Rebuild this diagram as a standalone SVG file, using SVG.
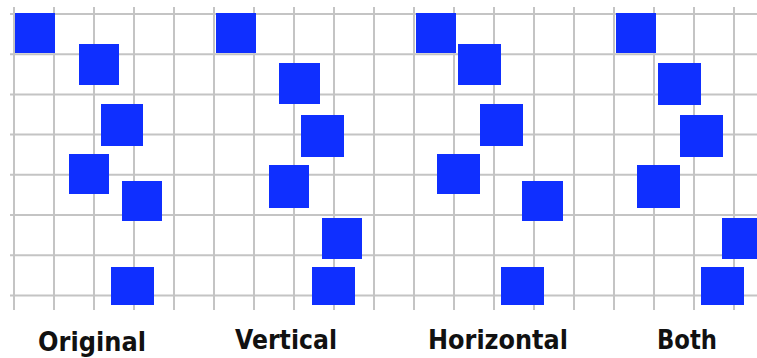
<svg xmlns="http://www.w3.org/2000/svg" width="757" height="358" viewBox="0 0 757 358">
<style>
.g line{stroke:#c4c4c4;stroke-width:2}
.sq{fill:#0f2fff}
.lbl{font-family:"DejaVu Sans","Liberation Sans",sans-serif;font-weight:bold;font-size:27px;fill:#111;text-anchor:middle}
</style>
<rect width="757" height="358" fill="#fff"/>
<g id="grid" class="g">
<line x1="10" y1="14" x2="757" y2="14"/>
<line x1="10" y1="54.2" x2="757" y2="54.2"/>
<line x1="10" y1="94.4" x2="757" y2="94.4"/>
<line x1="10" y1="134.6" x2="757" y2="134.6"/>
<line x1="10" y1="174.8" x2="757" y2="174.8"/>
<line x1="10" y1="215" x2="757" y2="215"/>
<line x1="10" y1="255.2" x2="757" y2="255.2"/>
<line x1="10" y1="295.4" x2="757" y2="295.4"/>
<line x1="14" y1="7" x2="14" y2="310"/>
<line x1="54" y1="7" x2="54" y2="310"/>
<line x1="94" y1="7" x2="94" y2="310"/>
<line x1="134" y1="7" x2="134" y2="310"/>
<line x1="174" y1="7" x2="174" y2="310"/>
<line x1="214" y1="7" x2="214" y2="310"/>
<line x1="254" y1="7" x2="254" y2="310"/>
<line x1="294" y1="7" x2="294" y2="310"/>
<line x1="334" y1="7" x2="334" y2="310"/>
<line x1="374" y1="7" x2="374" y2="310"/>
<line x1="414" y1="7" x2="414" y2="310"/>
<line x1="454" y1="7" x2="454" y2="310"/>
<line x1="494" y1="7" x2="494" y2="310"/>
<line x1="534" y1="7" x2="534" y2="310"/>
<line x1="574" y1="7" x2="574" y2="310"/>
<line x1="614" y1="7" x2="614" y2="310"/>
<line x1="654" y1="7" x2="654" y2="310"/>
<line x1="694" y1="7" x2="694" y2="310"/>
<line x1="734" y1="7" x2="734" y2="310"/>
</g>
<g id="original">
<rect class="sq" x="15" y="13" width="40" height="40"/>
<rect class="sq" x="79" y="44" width="40" height="41"/>
<rect class="sq" x="101" y="104" width="42" height="42"/>
<rect class="sq" x="69" y="154" width="40" height="40"/>
<rect class="sq" x="122" y="181" width="40" height="40"/>
<rect class="sq" x="111" y="267" width="43" height="38"/>
<text class="lbl" x="92" y="351" textLength="108" lengthAdjust="spacingAndGlyphs">Original</text>
</g>
<g id="vertical">
<rect class="sq" x="216" y="13" width="40" height="40"/>
<rect class="sq" x="279" y="63" width="41" height="41"/>
<rect class="sq" x="301" y="115" width="43" height="42"/>
<rect class="sq" x="269" y="165" width="40" height="43"/>
<rect class="sq" x="322" y="218" width="40" height="41"/>
<rect class="sq" x="312" y="267" width="43" height="38"/>
<text class="lbl" x="286" y="349" textLength="102" lengthAdjust="spacingAndGlyphs">Vertical</text>
</g>
<g id="horizontal">
<rect class="sq" x="416" y="13" width="40" height="40"/>
<rect class="sq" x="458" y="44" width="43" height="41"/>
<rect class="sq" x="480" y="104" width="43" height="42"/>
<rect class="sq" x="437" y="154" width="43" height="40"/>
<rect class="sq" x="522" y="181" width="41" height="40"/>
<rect class="sq" x="501" y="267" width="43" height="38"/>
<text class="lbl" x="498" y="349" textLength="140" lengthAdjust="spacingAndGlyphs">Horizontal</text>
</g>
<g id="both">
<rect class="sq" x="616" y="13" width="40" height="40"/>
<rect class="sq" x="658" y="63" width="43" height="42"/>
<rect class="sq" x="680" y="115" width="43" height="42"/>
<rect class="sq" x="637" y="165" width="43" height="43"/>
<rect class="sq" x="722" y="218" width="41" height="41"/>
<rect class="sq" x="701" y="267" width="43" height="38"/>
<text class="lbl" x="687" y="349" textLength="60" lengthAdjust="spacingAndGlyphs">Both</text>
</g>
</svg>
